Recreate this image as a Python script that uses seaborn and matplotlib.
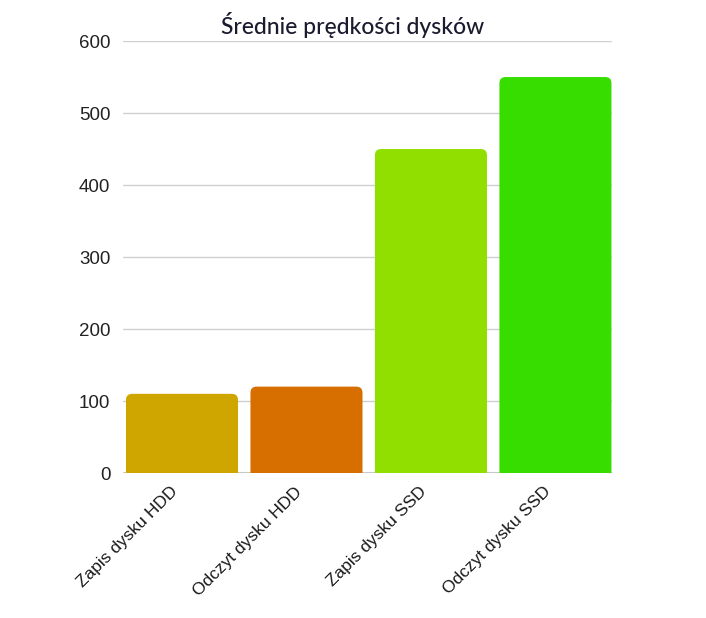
import matplotlib
matplotlib.use('Agg')
import matplotlib.pyplot as plt
import matplotlib.transforms as mtransforms
import seaborn as sns
import pandas as pd
from matplotlib.patches import FancyBboxPatch

# Data
categories = ['Zapis dysku HDD', 'Odczyt dysku HDD', 'Zapis dysku SSD', 'Odczyt dysku SSD']
speeds = [110, 120, 450, 550]
colors = ['#CFA600', '#D66E00', '#90DF00', '#38DD00']

df = pd.DataFrame({'kategoria': categories, 'predkosc': speeds})

sns.set_style('white')
plt.rcParams['font.family'] = ['Liberation Sans', 'DejaVu Sans']

fig = plt.figure(figsize=(7.06, 6.18), dpi=100)
ax = fig.add_axes([0.1742, 0.2346, 0.6926, 0.699])

sns.barplot(data=df, x='kategoria', y='predkosc', hue='kategoria',
            palette=colors, saturation=1, width=0.9, legend=False, ax=ax, zorder=3)

# swap plain rectangles for ones with rounded top corners
for bar in list(ax.patches):
    x, w, h = bar.get_x(), bar.get_width(), bar.get_height()
    fc = bar.get_facecolor()
    bar.remove()
    rb = FancyBboxPatch((x, -20), w, h + 20,
                        boxstyle='round,pad=0,rounding_size=0.05',
                        mutation_aspect=170, fc=fc, ec='none', zorder=3)
    ax.add_patch(rb)

ax.set_ylim(0, 600)
ax.set_xlim(-0.474, 3.454)
ax.set_yticks(range(0, 601, 100))
ax.yaxis.grid(True, color='#d0d0d0', linewidth=1, zorder=0)
ax.set_axisbelow(True)
sns.despine(ax=ax, left=True, bottom=True, top=True, right=True)
ax.axhline(0, color='#c8c8c8', linewidth=1.5, zorder=2)

ax.set_xlabel('')
ax.set_ylabel('')
ax.tick_params(axis='y', labelsize=13.5, length=0, pad=9, labelcolor='#222222')
ax.tick_params(axis='x', labelsize=12.5, length=0, pad=8, labelcolor='#1a1a1a')
ax.set_xticks(range(len(categories)))
ax.set_xticklabels(categories, rotation=45, ha='right', rotation_mode='anchor')
shift = mtransforms.ScaledTranslation(-12 / 100, 0, fig.dpi_scale_trans)
for lbl in ax.get_xticklabels():
    lbl.set_transform(lbl.get_transform() + shift)

fig.text(0.5, 0.96, 'Średnie prędkości dysków', ha='center', va='center',
         fontsize=16.5, fontweight='medium', color='#1b1b2f',
         family=['Lato', 'DejaVu Sans'])

fig.savefig('out.png', dpi=100, facecolor='white')
